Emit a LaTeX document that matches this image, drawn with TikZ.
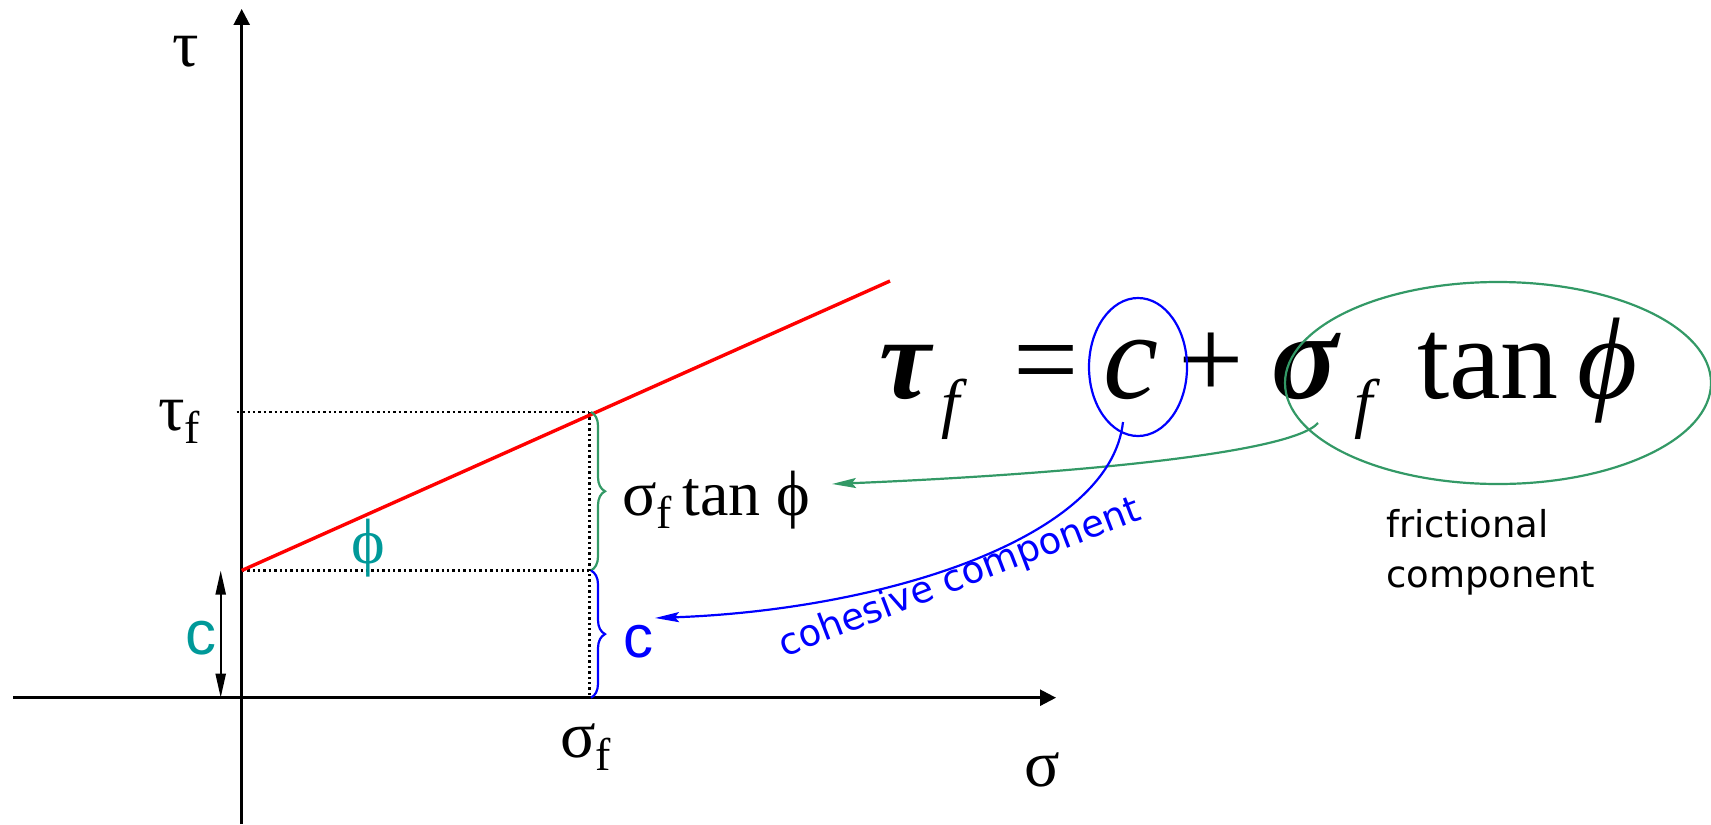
\documentclass[tikz,border=0pt]{standalone}
\usepackage{fontspec}
\setmainfont{Liberation Serif}
\newfontfamily\sansf{Liberation Sans}
\newfontfamily\dejavu{DejaVu Sans}
\usetikzlibrary{arrows.meta,shapes.geometric,decorations.pathreplacing}
\definecolor{tealc}{RGB}{0,153,153}
\definecolor{greenc}{RGB}{51,153,102}
\newcommand{\fs}[1]{\fontsize{#1}{#1}\selectfont}
\newcommand{\lsub}[2]{\raisebox{-#2}{\fs{23pt}#1}}
\tikzset{
  lbl/.style={inner sep=0pt, outer sep=0pt},
  axisline/.style={line width=1.25pt, -{Triangle[length=8pt,width=8pt]}},
  dotline/.style={line width=1.3pt, dash pattern=on 1.2pt off 1.5pt},
  bracestyle/.style={line width=1.1pt, decorate, decoration={brace, amplitude=7pt}},
  curvearrow/.style={line width=1.1pt, -{Stealth[length=12pt,width=5pt,inset=2pt]}},
  ellstyle/.style={ellipse, line width=1.1pt, inner sep=0pt},
}
\begin{document}
\begin{tikzpicture}[x=0.5pt,y=-0.5pt]
\useasboundingbox (0,0) rectangle (1711,824);

% key points
\coordinate (xs) at (13,697.7);
\coordinate (xe) at (1056,697.7);
\coordinate (ys) at (241.7,824);
\coordinate (ye) at (241.7,9);
\coordinate (C) at (241.7,570.5);
\coordinate (Cl) at (236.7,412);
\coordinate (F) at (589.3,412);
\coordinate (Fm) at (589.3,570.5);
\coordinate (Fb) at (589.3,697.7);
\coordinate (E) at (890,281);
\coordinate (ca) at (220.7,570.5);
\coordinate (cb) at (220.7,697.7);
\coordinate (gt) at (591,412);
\coordinate (gm) at (591,570.5);
\coordinate (gb) at (591,697.7);

% dotted guides
\draw[dotline] (Cl) -- (F);
\draw[dotline] (C) -- (Fm);
\draw[dotline] (F) -- (Fb);

% axes
\draw[axisline] (xs) -- (xe);
\draw[axisline] (ys) -- (ye);

% failure envelope
\draw[red, line width=1.7pt] (C) -- (E);

% cohesion arrow
\draw[line width=1.1pt, {Triangle[length=12pt,width=5pt]}-{Triangle[length=12pt,width=5pt]}] (ca) -- (cb);

% braces
\draw[bracestyle, greenc] (gt) -- (gm);
\draw[bracestyle, blue] (gm) -- (gb);

% axis labels
\node[lbl, anchor=base] (tauax) at (186,67) {\fs{33pt}τ};
\node[lbl, anchor=base west] (taufl) at (158,430) {\fs{33pt}τ\lsub{f}{6.5pt}};
\node[lbl, anchor=base west] (sigfl) at (560,757) {\fs{33pt}σ\lsub{f}{6.5pt}};
\node[lbl, anchor=base] (sigax) at (1042,786) {\fs{33pt}σ};

% plot labels
\node[lbl, anchor=base west] (sftan) at (622,515) {\fs{32pt}σ\lsub{f}{6.5pt}\,tan ϕ};
\node[lbl, text=tealc, anchor=base] (phil) at (368,563) {\fs{32pt}ϕ};
\node[lbl, text=tealc] (cl) at (201,638) {\sansf\fs{31pt}c};
\node[lbl, text=blue] (cr) at (638,642) {\sansf\fs{30pt}c};

% equation
\node[lbl, anchor=base] (eqtau) at (905,398) {\fs{58pt}\bfseries\itshape τ};
\node[lbl, anchor=base] (eqf1) at (951,425) {\fs{33pt}\itshape f};
\node[lbl, anchor=base] (eqeq) at (1046,398) {\fs{58pt}=};
\node[lbl, anchor=base] (eqc) at (1131,398) {\fs{62pt}\itshape c};
\node[lbl, anchor=base] (eqplus) at (1211,398) {\fs{58pt}+};
\node[lbl, anchor=base] (eqsig) at (1305,398) {\fs{62pt}\bfseries\itshape σ};
\node[lbl, anchor=base] (eqf2) at (1364,425) {\fs{33pt}\itshape f};
\node[lbl, anchor=base] (eqtan) at (1488,398) {\fs{58pt}tan};
\node[lbl, anchor=base] (eqphi) at (1607,398) {\fs{58pt}\itshape ϕ};

% ellipses
\node[ellstyle, draw=blue, minimum width=49pt, minimum height=69pt] (ellc) at (1138,367) {};
\node[ellstyle, draw=greenc, minimum width=213pt, minimum height=101pt] (ellf) at (1498,383) {};

% curved arrows
\coordinate (gs) at (1318,423);
\coordinate (ge) at (832,484);
\draw[curvearrow, greenc] (gs) .. controls (1290,455) and (1050,475) .. (ge);
\coordinate (bs) at (1123,422);
\coordinate (be) at (655,618);
\draw[curvearrow, blue] (bs) .. controls (1110,540) and (880,610) .. (be);

% component texts
\node[lbl, text=blue, anchor=base west, rotate=21] (coh) at (784,657) {\dejavu\fs{18.5pt}cohesive component};
\node[lbl, anchor=base west] (fr1) at (1386,537) {\dejavu\fs{18.5pt}frictional};
\node[lbl, anchor=base west] (fr2) at (1386,587) {\dejavu\fs{18.5pt}component};
\end{tikzpicture}
\end{document}
